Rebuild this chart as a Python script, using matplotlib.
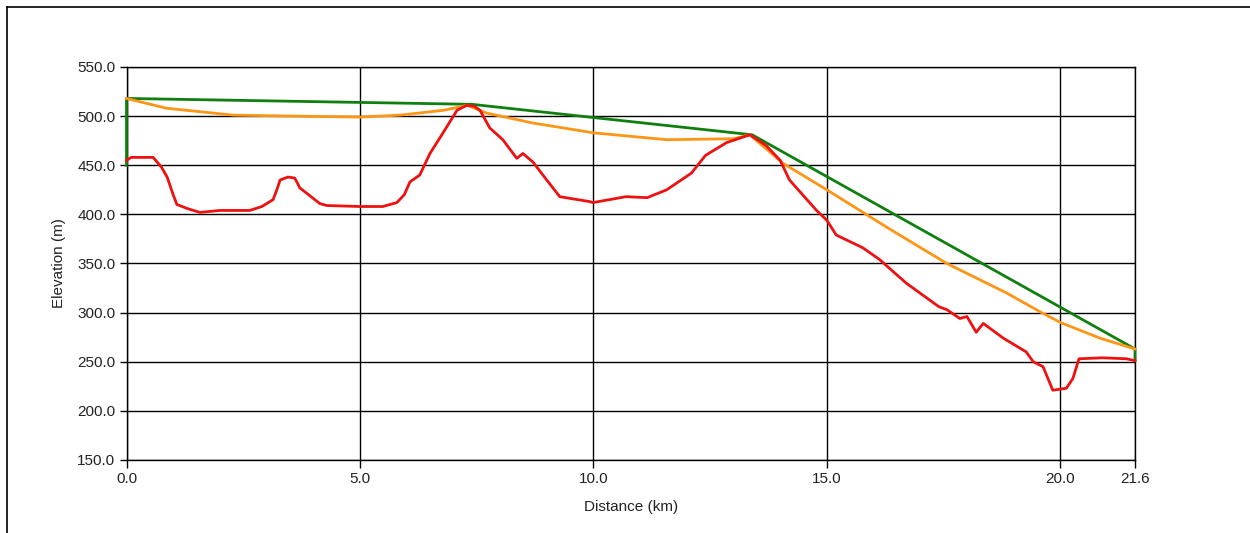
import matplotlib
matplotlib.use("Agg")
import matplotlib.pyplot as plt
from matplotlib.lines import Line2D

# ---- data ----
red_km = [0, 0.1, 0.57, 0.75, 0.87, 1.0, 1.08, 1.3, 1.57, 2.0, 2.64, 2.9, 3.14, 3.22, 3.29,
          3.46, 3.6, 3.65, 3.71, 3.9, 4.14, 4.29, 5.0, 5.49, 5.79, 5.95, 6.07, 6.28, 6.5, 6.78,
          7.08, 7.29, 7.45, 7.57, 7.78, 8.06, 8.36, 8.49, 8.71, 9.0, 9.28, 9.92, 9.99, 10.7,
          11.15, 11.57, 12.1, 12.4, 12.85, 13.35, 13.7, 14.0, 14.2, 14.78, 15.0, 15.2, 15.77,
          16.13, 16.7, 17.4, 17.57, 17.85, 18.0, 18.2, 18.35, 18.78, 19.27, 19.42, 19.63, 19.84,
          20.13, 20.27, 20.4, 20.9, 21.42, 21.6]
red_elev = [455, 458, 458, 448, 438, 420, 410, 406, 402, 404, 404, 408, 415, 425, 435,
            438, 437, 433, 427, 420, 411, 409, 408, 408, 412, 420, 433, 440, 462, 483,
            506, 511, 510, 506, 488, 476, 457, 462, 453, 435, 418, 413, 412, 418,
            417, 425, 442, 460, 473, 481, 470, 455, 435, 404, 394, 379, 366,
            354, 330, 306, 303, 294, 296, 280, 289, 274, 260, 250, 245, 221,
            223, 233, 253, 254, 253, 251]

green_km = [0, 0, 7.4, 13.4, 21.6, 21.6]
green_elev = [450, 518, 512, 481, 263, 251]

orange_km = [0, 0.86, 2.28, 5.0, 5.86, 6.8, 7.3, 7.72, 8.7, 10.0, 11.57, 13.0, 13.35, 14.06,
             15.0, 16.28, 17.57, 18.85, 19.56, 20.0, 20.85, 21.6]
orange_elev = [518, 508, 501, 499, 501, 506, 511, 503, 493, 483, 476, 477, 481, 452,
               425, 387, 350, 320, 301, 290, 274, 263]

x_ticks = [0, 5, 10, 15, 20, 21.6]
x_labels = ["0.0", "5.0", "10.0", "15.0", "20.0", "21.6"]
y_ticks = [150, 200, 250, 300, 350, 400, 450, 500, 550]
y_labels = ["150.0", "200.0", "250.0", "300.0", "350.0", "400.0", "450.0", "500.0", "550.0"]

plt.rcParams['font.family'] = ['Liberation Sans', 'DejaVu Sans']

fig = plt.figure(figsize=(12.5, 5.33), dpi=100)
ax = fig.add_axes([0.1012, 0.137, 0.8068, 0.7373])

ax.set_xlim(0, 21.6)
ax.set_ylim(150, 550)
ax.set_xticks(x_ticks)
ax.set_xticklabels(x_labels)
ax.set_yticks(y_ticks)
ax.set_yticklabels(y_labels)
ax.grid(True, color='black', linewidth=1.0)
ax.set_axisbelow(True)
for s in ax.spines.values():
    s.set_color('black')
    s.set_linewidth(1.0)
ax.tick_params(axis='both', direction='out', length=5, width=1, color='black',
               labelsize=11, labelcolor='#222222')
ax.tick_params(axis='x', length=6, pad=3)
ax.tick_params(axis='y', pad=3)

ax.plot(green_km, green_elev, color='#0f800f', lw=2, zorder=3, clip_on=False)
ax.plot(orange_km, orange_elev, color='#ff9515', lw=2, zorder=4, clip_on=False)
ax.plot(red_km, red_elev, color='#ee1111', lw=2, zorder=5, clip_on=False)

ax.set_xlabel("Distance (km)", fontsize=11, color='#222222', labelpad=10)
ax.set_ylabel("Elevation (m)", fontsize=11, color='#222222', labelpad=8)

# outer frame (top and left)
fig.add_artist(Line2D([7 / 1250, 1.0], [1 - 7 / 533, 1 - 7 / 533], transform=fig.transFigure,
                      color='black', lw=1.2))
fig.add_artist(Line2D([7 / 1250, 7 / 1250], [0.0, 1 - 7 / 533], transform=fig.transFigure,
                      color='black', lw=1.2))

fig.savefig("out.png", dpi=100)
